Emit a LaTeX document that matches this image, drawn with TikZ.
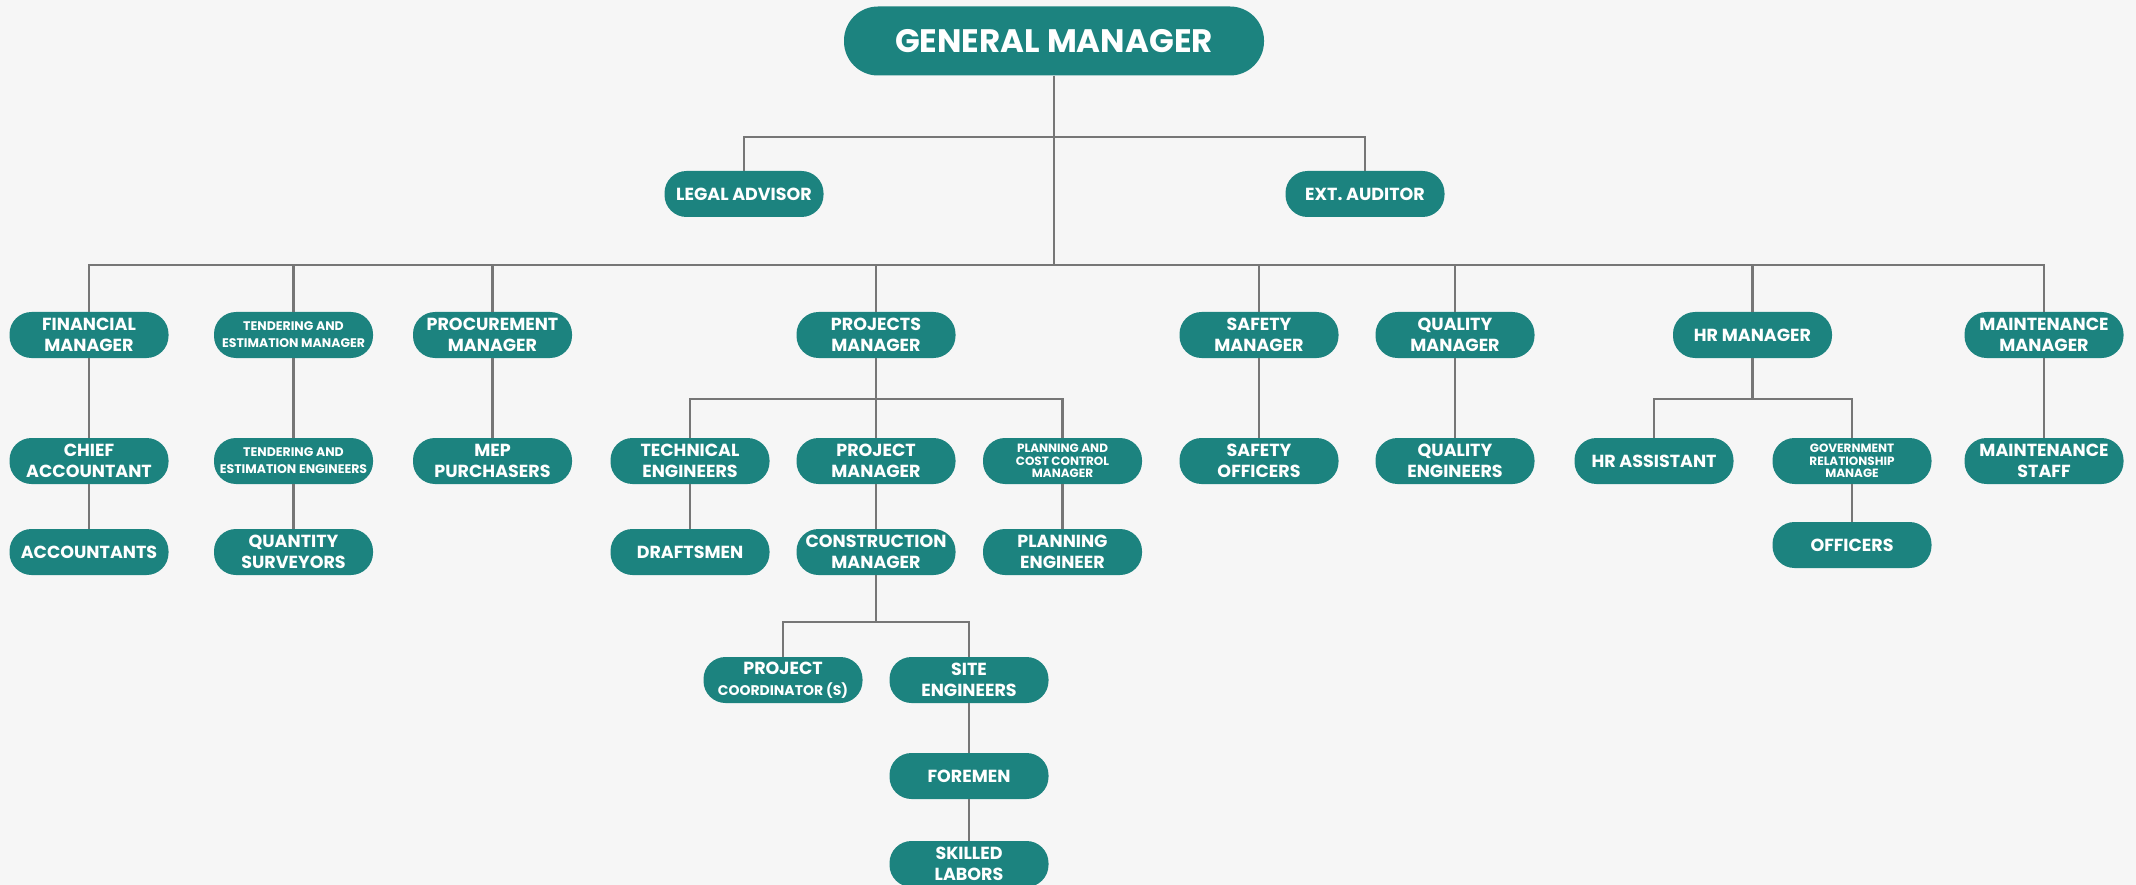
\documentclass[tikz,border=0pt]{standalone}
\usepackage{fontspec}
\setmainfont{Poppins}
\definecolor{orgteal}{RGB}{28,131,127}
\definecolor{linegray}{RGB}{118,118,118}
\definecolor{paper}{RGB}{246,246,246}
\begin{document}
\begin{tikzpicture}[x=1pt,y=-1pt,
  box/.style={fill=orgteal, text=white, rounded corners=22pt, minimum width=159pt, minimum height=46pt, inner sep=0pt, align=center, font=\fontsize{17.5}{21}\selectfont\bfseries},
  smallbox/.style={box, font=\fontsize{12.5}{17}\selectfont\bfseries},
  tinybox/.style={box, font=\fontsize{12}{12.5}\selectfont\bfseries},
  link/.style={draw=linegray, line width=2.8pt}]
% Page and background
\useasboundingbox (0,0) rectangle (2136,885);
\fill[paper] (0,0) rectangle (2136,885);

% Top of the chart
\node[box, minimum width=420pt, minimum height=69pt, rounded corners=34pt, font=\fontsize{32.5}{36}\selectfont\bfseries] (gm) at (1054,41) {GENERAL MANAGER};
\node[box] (legal) at (744,194) {LEGAL ADVISOR};
\node[box] (audit) at (1365,194) {EXT. AUDITOR};

% Department heads
\node[box] (fin) at (89,335) {FINANCIAL\\MANAGER};
\node[smallbox] (tend) at (293.5,335) {TENDERING AND\\ESTIMATION MANAGER};
\node[box] (proc) at (492.5,335) {PROCUREMENT\\MANAGER};
\node[box] (proj) at (876,335) {PROJECTS\\MANAGER};
\node[box] (safe) at (1259,335) {SAFETY\\MANAGER};
\node[box] (qual) at (1455,335) {QUALITY\\MANAGER};
\node[box] (hr) at (1752.5,335) {HR MANAGER};
\node[box] (maint) at (2044,335) {MAINTENANCE\\MANAGER};

% Second level
\node[box] (chief) at (89,461) {CHIEF\\ACCOUNTANT};
\node[smallbox] (tendeng) at (293.5,461) {TENDERING AND\\ESTIMATION ENGINEERS};
\node[box] (mep) at (492.5,461) {MEP\\PURCHASERS};
\node[box] (tech) at (690,461) {TECHNICAL\\ENGINEERS};
\node[box] (pm) at (876,461) {PROJECT\\MANAGER};
\node[tinybox] (plan) at (1062.5,461) {PLANNING AND\\COST CONTROL\\MANAGER};
\node[box] (safeoff) at (1259,461) {SAFETY\\OFFICERS};
\node[box] (qualeng) at (1455,461) {QUALITY\\ENGINEERS};
\node[box] (hrasst) at (1654,461) {HR ASSISTANT};
\node[tinybox] (gov) at (1852,461) {GOVERNMENT\\RELATIONSHIP\\MANAGE};
\node[box] (mstaff) at (2044,461) {MAINTENANCE\\STAFF};

% Third level
\node[box] (acct) at (89,552) {ACCOUNTANTS};
\node[box] (qs) at (293.5,552) {QUANTITY\\SURVEYORS};
\node[box] (draft) at (690,552) {DRAFTSMEN};
\node[box] (cm) at (876,552) {CONSTRUCTION\\MANAGER};
\node[box] (planeng) at (1062.5,552) {PLANNING\\ENGINEER};
\node[box] (officers) at (1852,545) {OFFICERS};

% Site level
\node[box] (coord) at (783,680) {PROJECT\\{\fontsize{14}{16}\selectfont COORDINATOR (S)}};
\node[box] (site) at (969,680) {SITE\\ENGINEERS};
\node[box] (foremen) at (969,776) {FOREMEN};
\node[box] (skilled) at (969,864) {SKILLED\\LABORS};

% Bus lines
\coordinate (topbus) at (0,137);
\coordinate (mainbus) at (0,265);
\coordinate (subbus) at (0,399);
\coordinate (cmbus) at (0,622);

\draw[link] (gm.south) -- (gm.south |- mainbus);
\draw[link] (legal.north) -- (legal.north |- topbus) -- (audit.north |- topbus) -- (audit.north);
\draw[link] (fin.north) -- (fin.north |- mainbus) -- (maint.north |- mainbus) -- (maint.north);
\foreach \n in {tend,proc,proj,safe,qual,hr}
  \draw[link] (\n.north) -- (\n.north |- mainbus);

\draw[link] (proj.south) -- (proj.south |- subbus);
\draw[link] (tech.north) -- (tech.north |- subbus) -- (plan.north |- subbus) -- (plan.north);
\draw[link] (pm.north) -- (pm.north |- subbus);
\draw[link] (hr.south) -- (hr.south |- subbus);
\draw[link] (hrasst.north) -- (hrasst.north |- subbus) -- (gov.north |- subbus) -- (gov.north);
\draw[link] (cm.south) -- (cm.south |- cmbus);
\draw[link] (coord.north) -- (coord.north |- cmbus) -- (site.north |- cmbus) -- (site.north);

% Straight chains
\foreach \a/\b in {fin/chief,chief/acct,tend/tendeng,tendeng/qs,proc/mep,tech/draft,pm/cm,plan/planeng,safe/safeoff,qual/qualeng,gov/officers,maint/mstaff,site/foremen,foremen/skilled}
  \draw[link] (\a.south) -- (\b.north);
\end{tikzpicture}
\end{document}
